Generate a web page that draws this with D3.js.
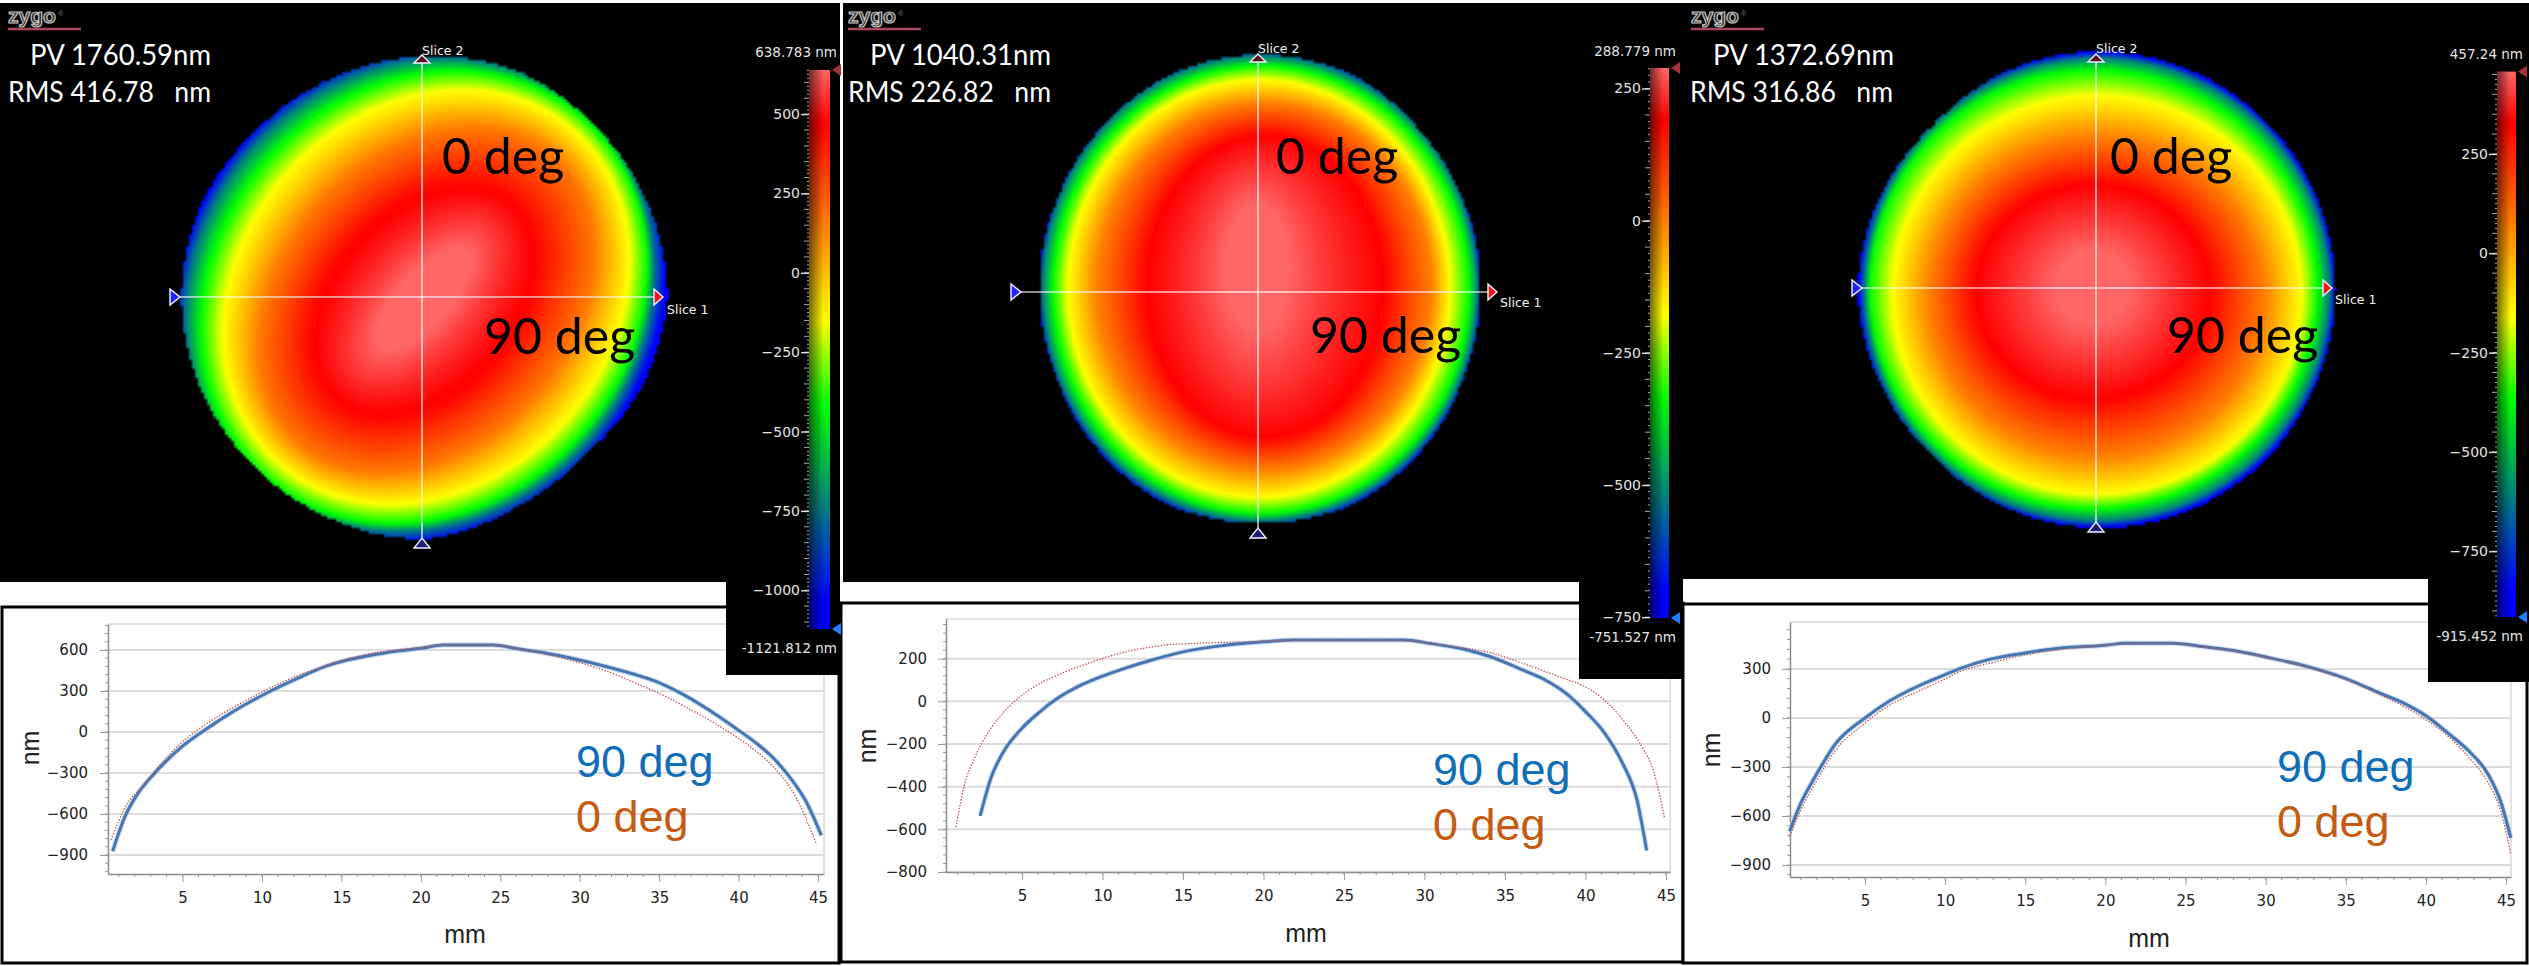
<!DOCTYPE html>
<html>
<head>
<meta charset="utf-8">
<title>Surface maps and slices</title>
<script src="https://cdn.jsdelivr.net/npm/d3@7"></script>
<style>
    html, body { margin: 0; padding: 0; background: #fff; }
    svg { display: block; }
    text { white-space: pre; }
</style>
</head>
<body>
<svg id="chart" width="2529" height="966"></svg>
<script>
// slice profiles, mm along the slice / nm height
var mm90A = [0.6,1.4,2.1,3.3,5,6.5,8.2,10.3,12.2,14,15.3,16.7,18.4,20,21.4,24.5,26.2,27.9,29.9,32,33.7,34.9,36.7,38.4,39.9,41.2,42.3,43.5,44.2,45.2];
var nm90A = [-873,-612,-466,-295,-104,22,150,285,390,480,525,557,590,612,636,636,607,576,528,468,412,365,262,140,20,-90,-205,-375,-500,-756];
var mm0A = [0.5,1.5,2.5,3.4,5,6.6,8.2,10,11.9,14,16.7,18.4,20,21.4,24.5,26.2,27.9,29.9,32,33.7,34.9,36.7,38.4,39.9,41.2,42.3,43.5,44.2,44.9];
var nm0A = [-791,-528,-396,-264,-72,67,180,293,396,485,571,600,617,636,636,607,568,510,432,348,288,180,70,-40,-150,-270,-456,-624,-823];

var mm90B = [2.4,3.1,3.8,5,6,7.2,8.5,10,11.2,12.9,15,17.3,20,22,28.7,30.4,32.4,34.1,36.1,37.5,38.8,40,41.2,42.3,43.2,43.8];
var nm90B = [-537,-353,-243,-126,-56,14,70,118,150,190,232,260,279,287,287,271,245,209,147,100,37,-48,-150,-290,-462,-699];
var mm0B = [0.9,1.4,2.1,3,3.8,5.3,7.2,8.5,10,11.2,12.9,13.9,15.2,17.3,20,22,28.7,30.4,32.4,34.1,36.1,38.1,40.5,41.5,42.5,43.5,44.2,44.9];
var nm0B = [-590,-399,-259,-134,-56,45,123,162,201,228,253,264,270,276,281,287,287,271,251,228,178,123,45,-17,-103,-212,-321,-543];

var mm90C = [0.3,1,1.9,3.2,5,6.6,8.3,10,11,12.7,15,17.1,20,21.2,24.2,25.9,27.9,30,32.7,35,37.1,38.8,40,41.5,42.8,43.9,44.7,45.3];
var nm90C = [-694,-520,-357,-153,0,108,194,265,305,357,398,426,445,457,457,439,414,373,312,241,153,82,14,-102,-214,-347,-520,-734];
var mm0C = [0.3,1,1.9,3.2,5,6.6,8.3,10,11,12.7,15,17.1,20,21.2,24.2,25.9,27.9,30,32.7,35,37.1,38.8,40,41.5,42.8,43.9,44.7,45.3];
var nm0C = [-724,-561,-398,-194,-31,82,163,239,286,333,386,418,445,455,455,437,412,371,308,235,143,61,-10,-122,-255,-398,-581,-836];

// surface map contours: height in nm, then offset and semi axes in mm around the aperture centre
var levelNmA = [638.8,458,170,-157,-419,-746,-1034,-1121.8];
var levelDxA = [0,0,0.25,0.2,0,-0.4,-0.4,-0.4];
var levelDyA = [0.2,0.4,0.3,0,0,-0.2,-0.2,-0.2];
var levelRxA = [2.5,8.8,13.5,17.6,19.7,21,22,22.7];
var levelRyA = [6,12.6,18,21,22.6,23.3,24.5,25.5];
var levelTiltA = 42;

var levelNmB = [288.8,190,-2.5,-179,-335,-523,-700,-751.5];
var levelDxB = [-0.3,0.5,0.4,-0.1,0.1,0,0,0];
var levelDyB = [-2,-0.2,-0.2,0,0.1,0,0,0];
var levelRxB = [3,11.2,15.8,18,19.6,20.5,20.9,21.3];
var levelRyB = [6,14.2,17.3,19.7,21.1,21.9,22.6,23.6];
var levelTiltB = 0;

var levelNmC = [457.2,327,73,-160,-366,-613,-847,-915.5];
var levelDxC = [-0.4,-0.4,0,0,-0.3,0,0,0];
var levelDyC = [-0.2,0.2,0.7,0.5,0,0,0,0];
var levelRxC = [3.5,11,15.8,19.3,21.1,21.9,22.5,23];
var levelRyC = [3.5,10.1,15.1,18.8,20.7,21.8,22.4,23];
var levelTiltC = 0;

// aperture outline radius in mm, every 22.5 degrees counter clockwise from slice 1
var outlineA = [23,22.9,22.8,23.1,22.7,22.4,22.3,22.8,22.9,22.8,22.6,22.7,22.9,21.7,21.2,22.2];
var outlineB = [20.8,20.9,21.2,22,22.1,21.9,21.3,20.9,20.8,20.9,21.6,22.2,22.1,22.2,21.6,20.9];
var outlineC = [22.5,22.5,22.5,22.5,22.5,22.3,21.9,22.3,22.6,22.3,22.1,22.3,22.5,22.6,22.6,22.5];

// colour bar, stops given as a share of the range from the top
var barShare = [0,0.095,0.28,0.45,0.6,0.78,0.95,1];
var barColor = ['#ff6666','#ff0000','#ff8000','#ffff00','#00ff00','#008080','#0000ff','#0000ff'];

var barTicksA = [500,250,0,-250,-500,-750,-1000];
var barTicksB = [250,0,-250,-500,-750];
var barTicksC = [250,0,-250,-500,-750];
var plotTicksA = [600,300,0,-300,-600,-900];
var plotTicksB = [200,0,-200,-400,-600,-800];
var plotTicksC = [300,0,-300,-600,-900];
var mmTicks = [5,10,15,20,25,30,35,40,45];

var panels = [
    {
        pv: 'PV 1760.59nm', rms: 'RMS 416.78   nm', pvX: 30, rmsX: 8, originX: 8,
        map: { x: 0, y: 3, w: 726, h: 577, cx: 424, cy: 297 },
        slice: { x: 422, y: 297, left: 170, right: 654, top: 55, bottom: 548, s1x: 667, s1y: 314, s2y: 55 },
        side: { x: 726, y: 3, w: 114, h: 672, barX: 809, barW: 21, top: 70, bottom: 629, topLabelY: 57, botLabelY: 653, labelX: 837 },
        max: 638.783, min: -1121.812, topLabel: '638.783 nm', botLabel: '-1121.812 nm', ticks: barTicksA,
        nm: levelNmA, dx: levelDxA, dy: levelDyA, rx: levelRxA, ry: levelRyA, tilt: levelTiltA, outline: outlineA,
        zero: [442,174], ninety: [484,354],
        frame: { x: 2, y: 607, w: 837, h: 356 },
        plot: { left: 108, right: 824, top: 624, bottom: 874, xDomain: [0.31,45.37], yDomain: [-1039,790], yTicks: plotTicksA, yMinor: 60, labelX: 88, mmX: 465, mmY: 943, nmX: 39, nmY: 748 },
        legendX: 576, legendY: [777,832],
        mm90: mm90A, nm90: nm90A, mm0: mm0A, nm0: nm0A
    },
    {
        pv: 'PV 1040.31nm', rms: 'RMS 226.82   nm', pvX: 870, rmsX: 848, originX: 848,
        map: { x: 843, y: 3, w: 736, h: 579, cx: 1260, cy: 288.5 },
        slice: { x: 1258, y: 292, left: 1011, right: 1488, top: 54, bottom: 538, s1x: 1500, s1y: 307, s2y: 53 },
        side: { x: 1579, y: 3, w: 104, h: 676, barX: 1650, barW: 19, top: 68, bottom: 618, topLabelY: 56, botLabelY: 642, labelX: 1676 },
        max: 288.779, min: -751.527, topLabel: '288.779 nm', botLabel: '-751.527 nm', ticks: barTicksB,
        nm: levelNmB, dx: levelDxB, dy: levelDyB, rx: levelRxB, ry: levelRyB, tilt: levelTiltB, outline: outlineB,
        zero: [1276,174], ninety: [1310,353],
        frame: { x: 841, y: 603, w: 842, h: 359 },
        plot: { left: 946, right: 1670, top: 619, bottom: 872, xDomain: [0.28,45.25], yDomain: [-800,386], yTicks: plotTicksB, yMinor: 40, labelX: 927, mmX: 1306, mmY: 942, nmX: 876, nmY: 746 },
        legendX: 1433, legendY: [785,840],
        mm90: mm90B, nm90: nm90B, mm0: mm0B, nm0: nm0B
    },
    {
        pv: 'PV 1372.69nm', rms: 'RMS 316.86   nm', pvX: 1713, rmsX: 1690, originX: 1691,
        map: { x: 1683, y: 3, w: 745, h: 575, cx: 2097, cy: 289.5 },
        slice: { x: 2096, y: 288, left: 1852, right: 2323, top: 54, bottom: 532, s1x: 2335, s1y: 304, s2y: 53 },
        side: { x: 2428, y: 3, w: 101, h: 679, barX: 2497, barW: 19, top: 71.6, bottom: 617, topLabelY: 59, botLabelY: 641, labelX: 2523 },
        max: 457.24, min: -915.452, topLabel: '457.24 nm', botLabel: '-915.452 nm', ticks: barTicksC,
        nm: levelNmC, dx: levelDxC, dy: levelDyC, rx: levelRxC, ry: levelRyC, tilt: levelTiltC, outline: outlineC,
        zero: [2110,174], ninety: [2167,353],
        frame: { x: 1683, y: 604, w: 844, h: 359 },
        plot: { left: 1790, right: 2511, top: 622, bottom: 877, xDomain: [0.32,45.31], yDomain: [-973,587], yTicks: plotTicksC, yMinor: 60, labelX: 1771, mmX: 2149, mmY: 947, nmX: 1720, nmY: 750 },
        legendX: 2277, legendY: [782,837],
        mm90: mm90C, nm90: nm90C, mm0: mm0C, nm0: nm0C
    }
];

var MM_PX = 10.6, // map scale, px per mm
    CELL = 3,
    TICK_FONT = '"DejaVu Sans", sans-serif',
    NOTE_FONT = 'Lato, "Noto Sans", sans-serif',
    PLOT_FONT = '"Liberation Sans", Arial, sans-serif';

var svg = d3.select( '#chart' ),
    defs = svg.append( 'defs' );

var shade = defs.append( 'linearGradient' ).attr( 'id', 'barShade' );
shade.append( 'stop' ).attr( 'offset', 0 ).attr( 'stop-color', '#000' ).attr( 'stop-opacity', 0.55 );
shade.append( 'stop' ).attr( 'offset', 0.7 ).attr( 'stop-color', '#000' ).attr( 'stop-opacity', 0 );

function barScale( p ){
    return d3.scaleLinear()
        .domain( barShare.map( function( s ){ return p.max + (p.min - p.max) * s; } ) )
        .range( barColor )
        .clamp( true );
}

// height at a point, blended between the two nested contours either side of it
function heightAt( p, mmX, mmY ){
    var rad = p.tilt * Math.PI / 180,
        cos = Math.cos( rad ),
        sin = Math.sin( rad ),
        prev, size, i, x, y, a, b, u, t;

    for ( i = 0; i < p.nm.length; i++ ){
        x = mmX - p.dx[i];
        y = mmY - p.dy[i];
        a = ( x * cos + y * sin ) / p.rx[i];
        b = ( -x * sin + y * cos ) / p.ry[i];
        u = Math.sqrt( a * a + b * b );

        if ( u <= 1 ){
            if ( i === 0 ){
                return p.nm[0];
            }
            a = ( prev - 1 ) * size;
            b = ( 1 - u ) * ( p.rx[i] + p.ry[i] ) / 2;
            t = a / ( a + b );
            return p.nm[i - 1] + ( p.nm[i] - p.nm[i - 1] ) * t;
        }
        prev = u;
        size = ( p.rx[i] + p.ry[i] ) / 2;
    }

    return p.nm[p.nm.length - 1];
}

function drawSurface( p ){
    var m = p.map,
        w = Math.ceil( m.w / CELL ),
        h = Math.ceil( m.h / CELL ),
        canvas = document.createElement( 'canvas' ),
        ctx,
        img,
        toMmX = d3.scaleLinear().domain( [m.cx - 22.5 * MM_PX, m.cx + 22.5 * MM_PX] ).range( [-22.5,22.5] ),
        toMmY = d3.scaleLinear().domain( [m.cy - 22.5 * MM_PX, m.cy + 22.5 * MM_PX] ).range( [-22.5,22.5] ),
        rim = d3.scaleLinear()
            .domain( d3.range( 0, 361, 22.5 ) )
            .range( p.outline.concat( p.outline[0] ) ),
        color = barScale( p ),
        i, j, x, y, angle, c, at;

    canvas.width = w;
    canvas.height = h;
    ctx = canvas.getContext( '2d' );
    img = ctx.createImageData( w, h );

    for ( j = 0; j < h; j++ ){
        for ( i = 0; i < w; i++ ){
            x = toMmX( m.x + ( i + 0.5 ) * CELL );
            y = toMmY( m.y + ( j + 0.5 ) * CELL );
            angle = Math.atan2( -y, x ) * 180 / Math.PI;
            if ( angle < 0 ){
                angle += 360;
            }
            at = ( j * w + i ) * 4;
            if ( Math.sqrt( x * x + y * y ) <= rim( angle ) ){
                c = d3.rgb( color( heightAt( p, x, y ) ) );
                img.data[at] = c.r;
                img.data[at + 1] = c.g;
                img.data[at + 2] = c.b;
            }
            img.data[at + 3] = 255;
        }
    }
    ctx.putImageData( img, 0, 0 );

    svg.append( 'rect' ).attr( 'x', m.x ).attr( 'y', m.y ).attr( 'width', m.w ).attr( 'height', m.h ).attr( 'fill', '#000' );
    svg.append( 'image' )
        .attr( 'x', m.x ).attr( 'y', m.y )
        .attr( 'width', w * CELL ).attr( 'height', h * CELL )
        .attr( 'preserveAspectRatio', 'none' )
        .attr( 'href', canvas.toDataURL() );
}

function marker( points, fill ){
    svg.append( 'polygon' )
        .attr( 'points', points.join( ' ' ) )
        .attr( 'fill', fill )
        .attr( 'stroke', '#f4f4ff' )
        .attr( 'stroke-width', 1.4 );
}

function drawSlices( p ){
    var s = p.slice;

    svg.append( 'line' ).attr( 'x1', s.left + 10 ).attr( 'x2', s.right ).attr( 'y1', s.y ).attr( 'y2', s.y )
        .attr( 'stroke', '#fff' ).attr( 'stroke-opacity', 0.75 ).attr( 'stroke-width', 1.6 );
    svg.append( 'line' ).attr( 'x1', s.x ).attr( 'x2', s.x ).attr( 'y1', s.top + 8 ).attr( 'y2', s.bottom - 10 )
        .attr( 'stroke', '#fff' ).attr( 'stroke-opacity', 0.75 ).attr( 'stroke-width', 1.6 );

    marker( [[s.left,s.y - 8],[s.left + 10,s.y],[s.left,s.y + 8]], '#2222ff' );
    marker( [[s.right,s.y - 8],[s.right + 9,s.y],[s.right,s.y + 8]], '#f01515' );
    marker( [[s.x,s.top],[s.x + 8,s.top + 8],[s.x - 8,s.top + 8]], '#5a0c18' );
    marker( [[s.x,s.bottom - 10],[s.x + 8,s.bottom],[s.x - 8,s.bottom]], '#1c1c70' );

    svg.append( 'text' ).attr( 'x', s.x ).attr( 'y', s.s2y ).text( 'Slice 2' )
        .attr( 'fill', '#f2f2f2' ).style( 'font', '12.5px ' + TICK_FONT );
    svg.append( 'text' ).attr( 'x', s.s1x ).attr( 'y', s.s1y ).text( 'Slice 1' )
        .attr( 'fill', '#f2f2f2' ).style( 'font', '12.5px ' + TICK_FONT );
}

function drawNotes( p ){
    var logo = p.originX;

    svg.append( 'text' ).attr( 'x', logo ).attr( 'y', 23 ).text( 'zygo' )
        .attr( 'textLength', 48 ).attr( 'lengthAdjust', 'spacingAndGlyphs' )
        .attr( 'fill', '#2a2a2a' ).attr( 'stroke', '#c4c4c4' ).attr( 'stroke-width', 1.2 )
        .style( 'font', 'bold 21px ' + PLOT_FONT );
    svg.append( 'text' ).attr( 'x', logo + 50 ).attr( 'y', 16 ).text( '\u00ae' )
        .attr( 'fill', '#777' ).style( 'font', '7px ' + PLOT_FONT );
    svg.append( 'line' ).attr( 'x1', logo ).attr( 'x2', logo + 73 ).attr( 'y1', 29 ).attr( 'y2', 29 )
        .attr( 'stroke', '#a8485a' ).attr( 'stroke-width', 2.5 );

    svg.append( 'text' ).attr( 'x', p.pvX ).attr( 'y', 65 ).text( p.pv )
        .attr( 'textLength', 181 ).attr( 'lengthAdjust', 'spacingAndGlyphs' )
        .attr( 'fill', '#fff' ).style( 'font', '29px ' + NOTE_FONT );
    svg.append( 'text' ).attr( 'x', p.rmsX ).attr( 'y', 102 ).text( p.rms )
        .attr( 'textLength', 203 ).attr( 'lengthAdjust', 'spacingAndGlyphs' )
        .attr( 'fill', '#fff' ).style( 'font', '29px ' + NOTE_FONT );

    svg.append( 'text' ).attr( 'x', p.zero[0] ).attr( 'y', p.zero[1] ).text( '0 deg' )
        .attr( 'fill', '#000' ).style( 'font', '50px ' + NOTE_FONT );
    svg.append( 'text' ).attr( 'x', p.ninety[0] ).attr( 'y', p.ninety[1] ).text( '90 deg' )
        .attr( 'fill', '#000' ).style( 'font', '50px ' + NOTE_FONT );
}

function sideMarker( x, y, fill ){
    svg.append( 'polygon' )
        .attr( 'points', [[x,y],[x + 9,y - 6],[x + 9,y + 6]].join( ' ' ) )
        .attr( 'fill', fill );
}

function drawBar( p, index ){
    var s = p.side,
        y = d3.scaleLinear().domain( [p.min, p.max] ).range( [s.bottom, s.top] ),
        gradient = defs.append( 'linearGradient' )
            .attr( 'id', 'bar' + index )
            .attr( 'x1', 0 ).attr( 'x2', 0 ).attr( 'y1', 0 ).attr( 'y2', 1 ),
        axis;

    svg.append( 'rect' ).attr( 'x', s.x ).attr( 'y', s.y ).attr( 'width', s.w ).attr( 'height', s.h ).attr( 'fill', '#000' );

    barShare.forEach( function( share, i ){
        gradient.append( 'stop' ).attr( 'offset', share ).attr( 'stop-color', barColor[i] );
    });

    svg.append( 'rect' ).attr( 'x', s.barX ).attr( 'y', s.top ).attr( 'width', s.barW ).attr( 'height', s.bottom - s.top )
        .attr( 'fill', 'url(#bar' + index + ')' );
    svg.append( 'rect' ).attr( 'x', s.barX ).attr( 'y', s.top ).attr( 'width', s.barW ).attr( 'height', s.bottom - s.top )
        .attr( 'fill', 'url(#barShade)' );

    // fine scale down the left of the bar
    svg.append( 'g' ).selectAll( 'line' )
        .data( d3.range( Math.ceil( p.min / 12.5 ) * 12.5, p.max, 12.5 ) )
        .join( 'line' )
        .attr( 'x1', function( d ){ return s.barX - ( d % 50 === 0 ? 5 : 2 ); } )
        .attr( 'x2', s.barX )
        .attr( 'y1', function( d ){ return y( d ); } )
        .attr( 'y2', function( d ){ return y( d ); } )
        .attr( 'stroke', '#a8a8a8' );

    axis = svg.append( 'g' )
        .attr( 'transform', 'translate(' + s.barX + ',0)' )
        .call( d3.axisLeft( y ).tickValues( p.ticks ).tickSize( 8 ).tickPadding( 1 ).tickFormat( d3.format( 'd' ) ) );
    axis.select( '.domain' ).remove();
    axis.selectAll( 'line' ).attr( 'stroke', '#e0e0e0' ).attr( 'stroke-width', 1.4 );
    axis.selectAll( 'text' ).attr( 'fill', '#e4e4e4' ).style( 'font', '14px ' + TICK_FONT );

    svg.append( 'text' ).attr( 'x', s.labelX ).attr( 'y', s.topLabelY ).attr( 'text-anchor', 'end' ).text( p.topLabel )
        .attr( 'fill', '#e4e4e4' ).style( 'font', '13.5px ' + TICK_FONT );
    svg.append( 'text' ).attr( 'x', s.labelX ).attr( 'y', s.botLabelY ).attr( 'text-anchor', 'end' ).text( p.botLabel )
        .attr( 'fill', '#e4e4e4' ).style( 'font', '13.5px ' + TICK_FONT );

    sideMarker( s.barX + s.barW + 2, s.top, '#a83038' );
    sideMarker( s.barX + s.barW + 2, s.bottom, '#1f7dff' );
}

function drawPlot( p ){
    var f = p.frame,
        c = p.plot,
        x = d3.scaleLinear().domain( c.xDomain ).range( [c.left, c.right] ),
        y = d3.scaleLinear().domain( c.yDomain ).range( [c.bottom, c.top] ),
        line = d3.line().curve( d3.curveMonotoneX )
            .x( function( d ){ return x( d[0] ); } )
            .y( function( d ){ return y( d[1] ); } ),
        minor, xAxis, yAxis;

    svg.append( 'rect' ).attr( 'x', f.x ).attr( 'y', f.y ).attr( 'width', f.w ).attr( 'height', f.h )
        .attr( 'fill', '#fff' ).attr( 'stroke', '#000' ).attr( 'stroke-width', 3 );

    // frame and grid
    svg.append( 'line' ).attr( 'x1', c.left ).attr( 'x2', c.right ).attr( 'y1', c.top ).attr( 'y2', c.top )
        .attr( 'stroke', '#d8d8d8' ).attr( 'stroke-width', 1.5 );
    svg.append( 'line' ).attr( 'x1', c.right ).attr( 'x2', c.right ).attr( 'y1', c.top ).attr( 'y2', c.bottom )
        .attr( 'stroke', '#d8d8d8' ).attr( 'stroke-width', 1.5 );
    svg.append( 'g' ).selectAll( 'line' ).data( c.yTicks ).join( 'line' )
        .attr( 'x1', c.left ).attr( 'x2', c.right )
        .attr( 'y1', function( d ){ return y( d ); } )
        .attr( 'y2', function( d ){ return y( d ); } )
        .attr( 'stroke', '#dcdcdc' ).attr( 'stroke-width', 2 );

    // minor ticks
    minor = svg.append( 'g' ).attr( 'stroke', '#999' );
    minor.selectAll( '.mx' ).data( d3.range( 1, 46 ) ).join( 'line' ).attr( 'class', 'mx' )
        .attr( 'x1', function( d ){ return x( d ); } )
        .attr( 'x2', function( d ){ return x( d ); } )
        .attr( 'y1', c.bottom ).attr( 'y2', c.bottom + 3 );
    minor.selectAll( '.my' )
        .data( d3.range( Math.ceil( c.yDomain[0] / c.yMinor ) * c.yMinor, c.yDomain[1], c.yMinor ) )
        .join( 'line' ).attr( 'class', 'my' )
        .attr( 'y1', function( d ){ return y( d ); } )
        .attr( 'y2', function( d ){ return y( d ); } )
        .attr( 'x1', c.left - 3 ).attr( 'x2', c.left );

    xAxis = svg.append( 'g' ).attr( 'transform', 'translate(0,' + c.bottom + ')' )
        .call( d3.axisBottom( x ).tickValues( mmTicks ).tickSize( 8 ).tickPadding( 10 ).tickSizeOuter( 0 ).tickFormat( d3.format( 'd' ) ) );
    yAxis = svg.append( 'g' ).attr( 'transform', 'translate(' + c.left + ',0)' )
        .call( d3.axisLeft( y ).tickValues( c.yTicks ).tickSize( 8 ).tickPadding( c.left - c.labelX - 8 ).tickSizeOuter( 0 ).tickFormat( d3.format( 'd' ) ) );
    [xAxis, yAxis].forEach( function( axis ){
        axis.select( '.domain' ).attr( 'stroke', '#8c8c8c' ).attr( 'stroke-width', 1.5 );
        axis.selectAll( 'line' ).attr( 'stroke', '#999' );
        axis.selectAll( 'text' ).attr( 'fill', '#222' ).style( 'font', '15px ' + TICK_FONT );
    });

    svg.append( 'text' ).attr( 'x', c.mmX ).attr( 'y', c.mmY ).attr( 'text-anchor', 'middle' ).text( 'mm' )
        .attr( 'fill', '#222' ).style( 'font', '25px ' + PLOT_FONT );
    svg.append( 'text' ).attr( 'transform', 'translate(' + c.nmX + ',' + c.nmY + ') rotate(-90)' )
        .attr( 'text-anchor', 'middle' ).text( 'nm' )
        .attr( 'fill', '#222' ).style( 'font', '25px ' + PLOT_FONT );

    // slices
    svg.append( 'path' ).attr( 'd', line( d3.zip( p.mm90, p.nm90 ) ) )
        .attr( 'fill', 'none' ).attr( 'stroke', '#b4cce8' ).attr( 'stroke-width', 5 ).attr( 'stroke-opacity', 0.7 );
    svg.append( 'path' ).attr( 'd', line( d3.zip( p.mm90, p.nm90 ) ) )
        .attr( 'fill', 'none' ).attr( 'stroke', '#4677b3' ).attr( 'stroke-width', 3 );
    svg.append( 'path' ).attr( 'd', line( d3.zip( p.mm0, p.nm0 ) ) )
        .attr( 'fill', 'none' ).attr( 'stroke', '#c05858' ).attr( 'stroke-width', 1.3 ).attr( 'stroke-dasharray', '1.5 1.5' );

    svg.append( 'text' ).attr( 'x', p.legendX ).attr( 'y', p.legendY[0] ).text( '90 deg' )
        .attr( 'fill', '#0e6eb8' ).style( 'font', '45px ' + PLOT_FONT );
    svg.append( 'text' ).attr( 'x', p.legendX ).attr( 'y', p.legendY[1] ).text( '0 deg' )
        .attr( 'fill', '#c55a11' ).style( 'font', '45px ' + PLOT_FONT );
}

panels.forEach( function( p ){
    drawPlot( p );
});
panels.forEach( function( p, i ){
    drawSurface( p );
    drawSlices( p );
    drawNotes( p );
    drawBar( p, i );
});
</script>
</body>
</html>
